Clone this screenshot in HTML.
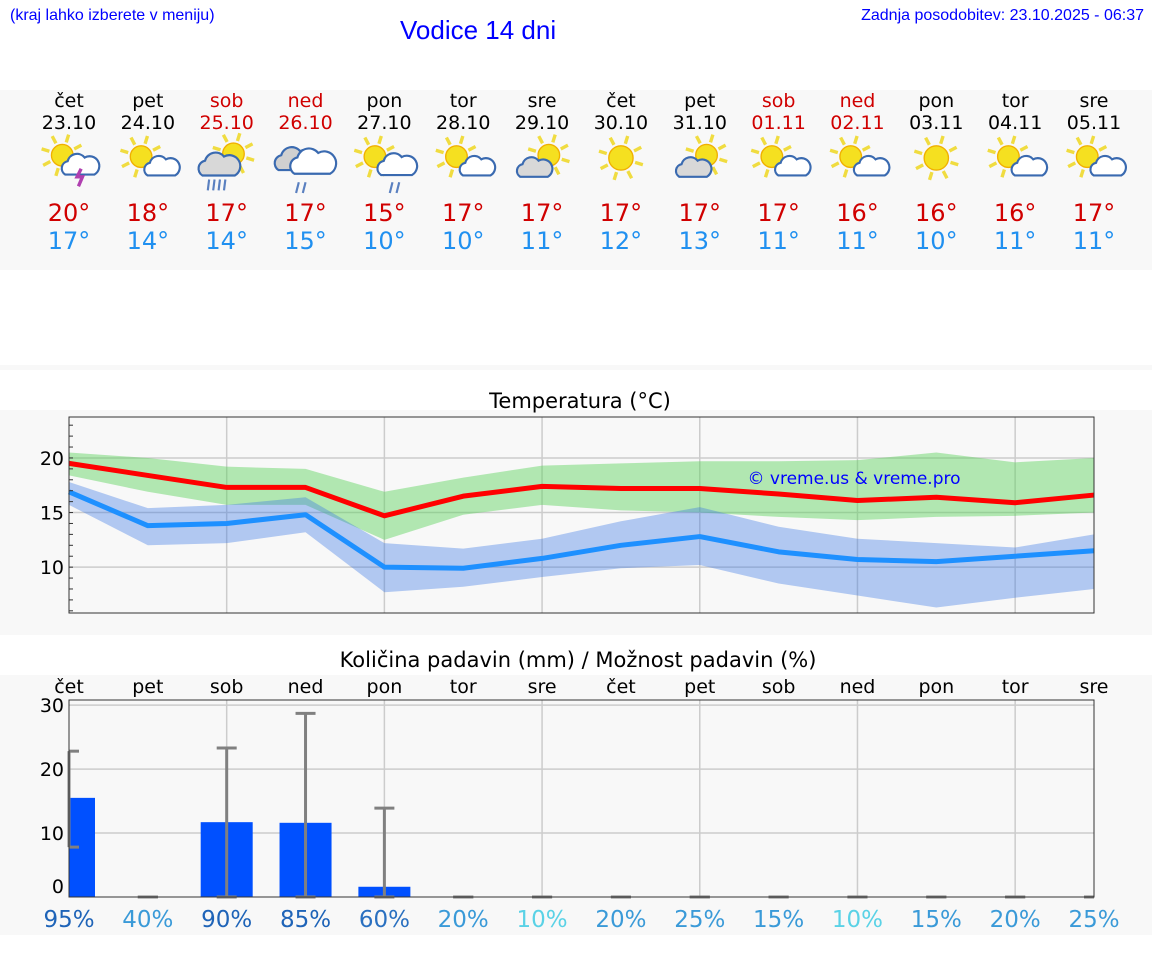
<!DOCTYPE html>
<html><head><meta charset="utf-8">
<style>
body{margin:0;width:1152px;height:975px;background:#fff;font-family:"DejaVu Sans","Liberation Sans",sans-serif;position:relative;overflow:hidden}
.abs{position:absolute}
</style></head>
<body>
<div class="abs" style="left:10px;top:7px;font-size:16px;color:#00f;font-family:'Liberation Sans',sans-serif">(kraj lahko izberete v meniju)</div>
<div class="abs" style="left:400px;top:15px;font-size:26px;color:#00f;font-family:'Liberation Sans',sans-serif">Vodice 14 dni</div>
<div class="abs" style="right:8px;top:7px;font-size:16px;color:#00f;font-family:'Liberation Sans',sans-serif">Zadnja posodobitev: 23.10.2025 - 06:37</div>
<div class="abs" style="left:0;top:90px;width:1152px;height:180px;background:#f8f8f8"></div>
<div class="abs" style="left:0;top:365px;width:1152px;height:5px;background:#f8f8f8"></div>
<svg id="svg" class="abs" style="left:0;top:0" width="1152" height="975"></svg>
<script>
const days=["čet","pet","sob","ned","pon","tor","sre","čet","pet","sob","ned","pon","tor","sre"];
const dates=["23.10","24.10","25.10","26.10","27.10","28.10","29.10","30.10","31.10","01.11","02.11","03.11","04.11","05.11"];
const weekend=[0,0,1,1,0,0,0,0,0,1,1,0,0,0];
const icons=[0,1,2,3,4,1,6,7,8,1,1,7,1,1];
const tMaxLabel=[20,18,17,17,15,17,17,17,17,17,16,16,16,17];
const tMinLabel=[17,14,14,15,10,10,11,12,13,11,11,10,11,11];
const maxLine=[19.5,18.4,17.3,17.3,14.7,16.5,17.4,17.2,17.2,16.7,16.1,16.4,15.9,16.6];
const maxHi=[20.5,20,19.2,19,16.9,18.2,19.3,19.5,19.7,19.7,19.8,20.5,19.6,20];
const maxLo=[18.4,16.9,15.7,15.7,12.5,14.8,15.7,15.2,15.0,14.6,14.3,14.6,14.7,15.0];
const minLine=[16.9,13.8,14.0,14.8,10,9.9,10.8,12,12.8,11.4,10.7,10.5,11,11.5];
const minHi=[17.8,15.4,15.7,16.4,12.2,11.7,12.6,14.2,15.5,13.7,12.6,12.2,11.8,13];
const minLo=[15.7,12,12.2,13.2,7.7,8.2,9.1,9.9,10.2,8.5,7.4,6.3,7.2,8];
const precip=[15.5,0,11.7,11.6,1.6,0,0,0,0,0,0,0,0,0];
const errLo=[7.8,0,0,0,0,0,0,0,0,0,0,0,0,0];
const errHi=[22.8,0,23.3,28.7,13.9,0,0,0,0,0,0,0,0,0];
const chance=[95,40,90,85,60,20,10,20,25,15,10,15,20,25];

const svg=document.getElementById('svg');
const NS='http://www.w3.org/2000/svg';
function mk(tag,at,parent){const e=document.createElementNS(NS,tag);for(const k in at)e.setAttribute(k,at[k]);(parent||svg).appendChild(e);return e;}
function txt(x,y,s,size,fill,anchor){const t=mk('text',{x:x,y:y,'font-size':size,fill:fill,'text-anchor':anchor||'middle','font-family':'DejaVu Sans, Liberation Sans, sans-serif'});t.textContent=s;return t;}
const X0=69,X1=1094;
const xs=i=>X0+i*(X1-X0)/13;
for(let i=0;i<14;i++){
  const c=weekend[i]?'#d00000':'#000';
  const d=txt(xs(i),107,days[i],19,c);
  
  
  const dt=txt(xs(i),129,dates[i],19,c);
  
  
  const g=mk('g',{transform:'translate('+xs(i)+',162) scale(1.35)'});
  
  
  drawIcon(g,icons[i]);
  const a=txt(xs(i),221,tMaxLabel[i]+'°',24,'#d00000');
  
  
  const b=txt(xs(i),249,tMinLabel[i]+'°',24,'#2090f0');
  
  
}
function sun(g,cx,cy,r){
  for(let k=0;k<8;k++){const a=k*Math.PI/4+0.3;mk('line',{x1:cx+Math.cos(a)*(r+2),y1:cy+Math.sin(a)*(r+2),x2:cx+Math.cos(a)*(r+8),y2:cy+Math.sin(a)*(r+8),stroke:'#f0dc40','stroke-width':2.5},g);}
  mk('circle',{cx:cx,cy:cy,r:r,fill:'#f5e020',stroke:'#f0b000','stroke-width':1},g);
}
function cloud(g,cx,cy,s,fill){
  const p='M'+(cx-12*s)+','+(cy+7*s)+' a'+6*s+','+6*s+' 0 0 1 '+(2*s)+','+(-11*s)+' a'+8*s+','+8*s+' 0 0 1 '+(14*s)+','+(-3*s)+' a'+6*s+','+6*s+' 0 0 1 '+(8*s)+','+(14*s)+' z';
  mk('path',{d:p,fill:fill,stroke:'#3a6ab0','stroke-width':1.6},g);
}
function rain(g,cx,cy){for(let k=0;k<2;k++)mk('line',{x1:cx+k*5,y1:cy,x2:cx-2+k*5,y2:cy+8,stroke:'#5a80c0','stroke-width':1.6},g);}
function drawIcon(g,t){
  if(t===0){sun(g,-5,-5,8);cloud(g,8,3,0.9,'#fff');mk('path',{d:'M9,5 l-3,6 h4 l-3,7',stroke:'#b040b0','stroke-width':2.5,fill:'none'},g);}
  else if(t===1){sun(g,-5,-4,8);cloud(g,10,4,0.85,'#fff');}
  else if(t===2){sun(g,5,-6,8);cloud(g,-6,3,1,'#d8d8d8');for(let k=0;k<4;k++)mk('line',{x1:-13+k*4,y1:13,x2:-14+k*4,y2:21,stroke:'#5a80c0','stroke-width':1.6},g);}
  else if(t===3){cloud(g,-8,-1,1,'#d0d0d0');cloud(g,5,1,1.1,'#fff');rain(g,-5,15);}
  else if(t===4){sun(g,-7,-4,8);cloud(g,9,3,0.95,'#fff');rain(g,6,15);}
  else if(t===6){sun(g,5,-5,8);cloud(g,-6,5,0.85,'#d8d8d8');}
  else if(t===7){sun(g,0,-3,9);}
  else if(t===8){sun(g,5,-5,8);cloud(g,-5,5,0.85,'#d8d8d8');}
}
mk('rect',{x:0,y:410,width:1152,height:225,fill:'#f8f8f8'});
let tt=txt(580,408,'Temperatura (°C)',21,'#000');

const TY0=417,TY1=613,TMIN=5.8,TMAX=23.75;
const ty=v=>TY1-(v-TMIN)*(TY1-TY0)/(TMAX-TMIN);
const tempG=mk('g',{});


[10,15,20].forEach(v=>mk('line',{x1:X0,x2:X1,y1:ty(v),y2:ty(v),stroke:'#ccc','stroke-width':1.5},tempG));
for(let i=2;i<14;i+=2)mk('line',{x1:xs(i),x2:xs(i),y1:TY0,y2:TY1,stroke:'#ccc','stroke-width':1.5},tempG);
function band(hi,lo,fill,name){let d='M';hi.forEach((v,i)=>d+=xs(i)+','+ty(v)+' L');for(let i=lo.length-1;i>=0;i--)d+=xs(i)+','+ty(lo[i])+(i?' L':' Z');const p=mk('path',{d:d,fill:fill},tempG);}
function line(v,col,name){const p=mk('polyline',{points:v.map((y,i)=>xs(i)+','+ty(y)).join(' '),fill:'none',stroke:col,'stroke-width':5,'stroke-linejoin':'round'},tempG);}
band(maxHi,maxLo,'rgba(90,210,90,0.45)','max-temp-range');
band(minHi,minLo,'rgba(60,120,230,0.38)','min-temp-range');
line(maxLine,'#ff0000','max-temp-line');
line(minLine,'#1e90ff','min-temp-line');
mk('rect',{x:X0,y:TY0,width:X1-X0,height:TY1-TY0,fill:'none',stroke:'#333','stroke-width':1},tempG);
for(let v=6;v<=23;v++)mk('line',{x1:X0,x2:X0+4,y1:ty(v),y2:ty(v),stroke:'#333'},tempG);
[10,15,20].forEach(v=>{const l=txt(64,ty(v)+7,String(v),19,'#000','end');});
let wm=txt(854,484,'© vreme.us & vreme.pro',17,'#0000ff');

mk('rect',{x:0,y:675,width:1152,height:260,fill:'#f8f8f8'});
let pt=txt(578,667,'Količina padavin (mm) / Možnost padavin (%)',21,'#000');

const PY0=700,PY1=897,PMAX=30.8;
const py=v=>PY1-v*(PY1-PY0)/PMAX;
const pg=mk('g',{});


[10,20,30].forEach(v=>mk('line',{x1:X0,x2:X1,y1:py(v),y2:py(v),stroke:'#ccc','stroke-width':1.5},pg));
for(let i=2;i<14;i+=2)mk('line',{x1:xs(i),x2:xs(i),y1:PY0,y2:PY1,stroke:'#ccc','stroke-width':1.5},pg);
for(let i=0;i<14;i++){
  let x=xs(i)-26,w=52;if(x<X0){w-=X0-x;x=X0;}if(x+w>X1)w=X1-x;
  if(precip[i]>0){const r=mk('rect',{x:x,y:py(precip[i]),width:w,height:PY1-py(precip[i]),fill:'#0050ff'},pg);}
  const eg=mk('g',{stroke:'#808080','stroke-width':3},pg);
  
  
  const cx=xs(i),x1=Math.max(X0,cx-10),x2=Math.min(X1,cx+10);
  mk('line',{x1:cx,x2:cx,y1:py(errLo[i]),y2:py(errHi[i])},eg);
  mk('line',{x1:x1,x2:x2,y1:py(errLo[i]),y2:py(errLo[i])},eg);
  mk('line',{x1:x1,x2:x2,y1:py(errHi[i]),y2:py(errHi[i])},eg);
  const dl=txt(xs(i),693,days[i],19,'#000');
  const c=chance[i]>=80?'#1f64b8':chance[i]>=50?'#2a70c0':chance[i]>=15?'#3a9ad8':'#5ad2e6';
  const pl=txt(xs(i),927,chance[i]+'%',23,c);
}
mk('rect',{x:X0,y:PY0,width:X1-X0,height:PY1-PY0,fill:'none',stroke:'#333','stroke-width':1},pg);
[[0,893],[10,840],[20,776],[30,712]].forEach(a=>{const l=txt(64,a[1],String(a[0]),19,'#000','end');});
</script>
</body></html>
